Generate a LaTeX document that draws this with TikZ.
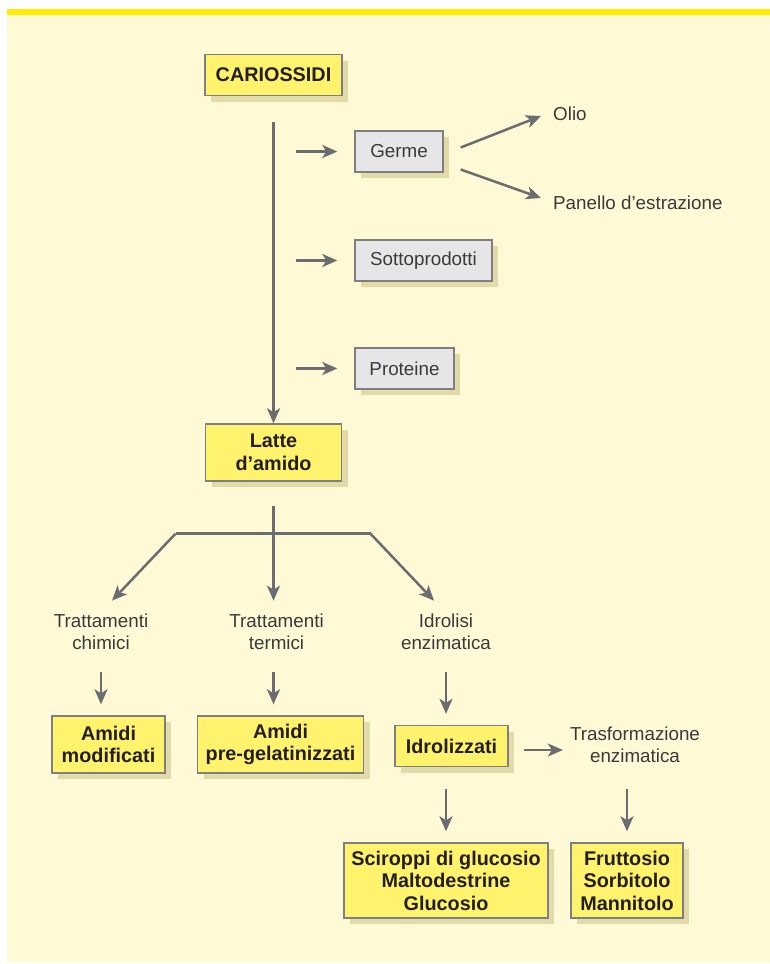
\documentclass[tikz,border=0pt]{standalone}
\usepackage{fontspec}
\setmainfont{Liberation Sans}
\usetikzlibrary{arrows.meta,shadows,calc}

\definecolor{pagebg}{HTML}{FFF9D6}
\definecolor{topbar}{HTML}{FFEC00}
\definecolor{boxyellow}{HTML}{FFF36E}
\definecolor{boxgray}{HTML}{E6E6E8}
\definecolor{boxline}{HTML}{7E7F83}
\definecolor{shade}{HTML}{E2DAA8}
\definecolor{linegray}{HTML}{6B6C70}
\definecolor{ink}{HTML}{231F20}
\definecolor{inkb}{HTML}{3A3A3C}

\newcommand\bxfont{\fontsize{19.8}{22.5}\selectfont\bfseries}
\newcommand\rgfont{\fontsize{18.8}{22.5}\selectfont}

\tikzset{
  ybox/.style={draw=boxline, line width=1.4pt, fill=boxyellow, inner sep=0pt,
    align=center, font=\bxfont, text=ink,
    drop shadow={shadow xshift=6pt, shadow yshift=-6pt, fill=shade, opacity=1}},
  gbox/.style={ybox, fill=boxgray, font=\rgfont, text=inkb},
  lbl/.style={align=center, font=\rgfont, text=inkb, inner sep=0pt},
  arr/.style={draw=linegray, line width=2.5pt,
    -{Stealth[length=15pt,width=13pt,inset=4pt]}},
  ln/.style={draw=linegray, line width=2.5pt},
}

\begin{document}
\begin{tikzpicture}[x=1pt,y=-1pt]
\useasboundingbox (0,0) rectangle (770,964);
% page background and top band
\fill[white] (0,0) rectangle (770,964);
\fill[pagebg] (7,9) rectangle (770,962);
\fill[topbar] (7,9) rectangle (770,15);

% main column
\node[ybox, minimum width=137pt, minimum height=41pt] (car) at (273.5,75) {CARIOSSIDI};
\node[ybox, minimum width=136pt, minimum height=57pt] (latte) at (273.5,452.5) {Latte\\d’amido};

% by-products
\node[gbox, minimum width=88pt, minimum height=41pt] (germe) at (399,151.5) {Germe};
\node[gbox, minimum width=137pt, minimum height=41pt] (sotto) at (423.5,260.5) {Sottoprodotti};
\node[gbox, minimum width=99pt, minimum height=41pt] (prot) at (404.5,368.5) {Proteine};
\node[lbl, anchor=west] (olio) at (553,114) {Olio};
\node[lbl, anchor=west] (panello) at (553,203) {Panello d’estrazione};

% treatments
\node[lbl] (chim) at (101,632) {Trattamenti\\chimici};
\node[lbl] (term) at (276.5,632) {Trattamenti\\termici};
\node[lbl] (idro) at (446,632) {Idrolisi\\enzimatica};

% products
\node[ybox, minimum width=113pt, minimum height=57pt] (modif) at (108.5,744.5) {Amidi\\modificati};
\node[ybox, minimum width=166pt, minimum height=57pt] (pregel) at (280.5,744.5) {Amidi\\pre-gelatinizzati};
\node[ybox, minimum width=113pt, minimum height=41pt] (idrol) at (451.5,746) {Idrolizzati};
\node[lbl] (trasf) at (635,745) {Trasformazione\\enzimatica};
\node[ybox, minimum width=204pt, minimum height=75pt] (sciro) at (446,880.5) {Sciroppi di glucosio\\Maltodestrine\\Glucosio};
\node[ybox, minimum width=112pt, minimum height=75pt] (frut) at (627,880.5) {Fruttosio\\Sorbitolo\\Mannitolo};

% connectors: main stream
\draw[arr, shorten <=26pt] (car.south) -- (latte.north);
\draw[arr, shorten <=22pt, shorten >=17pt] (car.south |- germe.west) -- (germe.west);
\draw[arr, shorten <=22pt, shorten >=17pt] (car.south |- sotto.west) -- (sotto.west);
\draw[arr, shorten <=22pt, shorten >=17pt] (car.south |- prot.west) -- (prot.west);
\draw[arr] ($(germe.east)+(17,-4)$) -- ($(olio.west)+(-12,2)$);
\draw[arr] ($(germe.east)+(17,18)$) -- ($(panello.west)+(-12,-5)$);

% branching below the starch milk
\coordinate (fork) at ($(latte.south)+(0,52)$);
\coordinate (forkL) at ($(fork)+(-98,0)$);
\coordinate (forkR) at ($(fork)+(97,0)$);
\draw[ln] (forkL) -- (forkR);
\draw[arr, shorten <=24pt] (latte.south) -- ($(latte.south |- chim.north)+(0,-13)$);
\draw[arr] (forkL) -- ($(chim.north)+(11,-13)$);
\draw[arr] (forkR) -- ($(idro.north)+(-12,-13)$);

\draw[arr, shorten <=22pt, shorten >=11pt] (chim.south) -- (chim.south |- modif.north);
\draw[arr, shorten <=22pt, shorten >=11pt] (term.south -| latte.south) -- (latte.south |- pregel.north);
\draw[arr, shorten <=22pt, shorten >=11pt] (idro.south) -- (idro.south |- idrol.north);
\draw[arr, shorten <=15pt, shorten >=7pt] (idrol.east) ++(0,4) -- (trasf.west |- 0,750);
\draw[arr, shorten <=22pt, shorten >=11pt] (sciro.north |- idrol.south) -- (sciro.north);
\draw[arr, shorten <=22pt, shorten >=11pt] (frut.north |- idrol.south) -- (frut.north);
\end{tikzpicture}
\end{document}
